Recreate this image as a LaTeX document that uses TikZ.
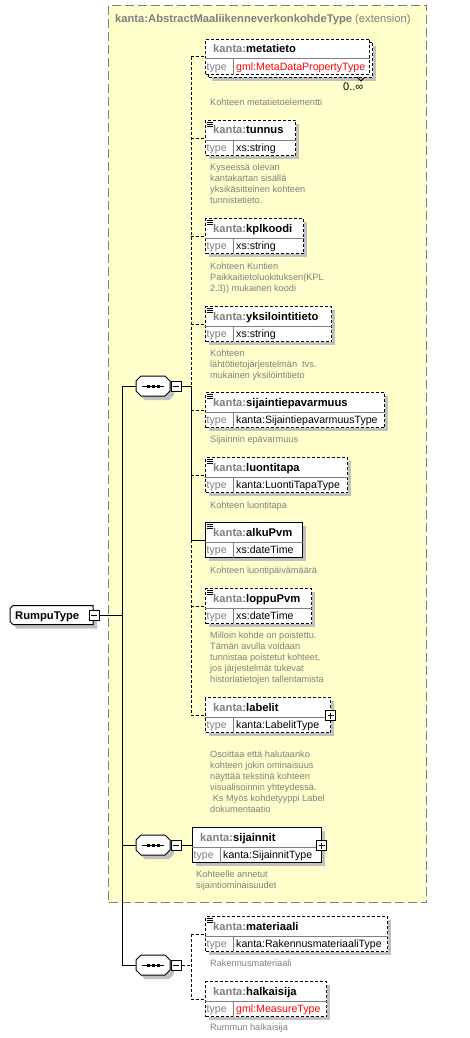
\documentclass[tikz,border=0pt]{standalone}
\usepackage{fontspec}
\setmainfont{Liberation Sans}
\usetikzlibrary{calc}
\definecolor{pfx}{HTML}{808080}
\definecolor{descc}{HTML}{808080}
\definecolor{shadowc}{HTML}{C0C0C0}
\definecolor{extfill}{HTML}{FFFFCC}
\definecolor{extline}{HTML}{808080}
\definecolor{divc}{HTML}{808080}
\definecolor{typered}{HTML}{FF0000}
\tikzset{
 elemnode/.style={draw=black, fill=white, line width=1pt, inner sep=0pt, rectangle},
 optb/.style={dash pattern=on 3pt off 2pt},
 reqb/.style={solid},
 divline/.style={draw=divc, line width=1pt},
 namefont/.style={font=\fontsize{11.2}{13}\selectfont\bfseries, inner sep=0pt},
 typefont/.style={font=\fontsize{10.6}{12}\selectfont, inner sep=0pt},
 desctext/.style={font=\fontsize{9.2}{11}\selectfont, text=descc, inner sep=0pt, anchor=base west},
 conn/.style={draw=black, line width=1pt},
 optconn/.style={conn, dash pattern=on 3pt off 2pt},
 pmbox/.style={draw=black, fill=white, line width=1pt, minimum size=10pt, inner sep=0pt, rectangle},
 hitbox/.style={draw=none, inner sep=0pt, rectangle},
 withshadow/.style={fill=shadowc},
 noshadow/.style={fill=none},
}
% #1 name #2 left #3 top #4 right #5 border #6 local name #7 type #8 type colour #9 shadow style
\newcommand\elembox[9]{%
 \fill[#9] ({#2+4},{#3+4}) rectangle ({#4+4},{#3+39});
 \node[elemnode,#5,minimum width={#4-#2},minimum height=35pt,anchor=north west] (#1) at (#2,#3) {};
 \draw[divline] ($(#1.north west)+(0,20)$) -- ($(#1.north east)+(0,20)$);
 \draw[divline] ($(#1.north west)+(28,20)$) -- ($(#1.south west)+(28,0)$);
 \node[namefont,anchor=base west] (#1-n) at ($(#1.north west)+(8,14)$) {\textcolor{pfx}{kanta:}#6};
 \node[typefont,text=pfx,anchor=base west] (#1-k) at ($(#1.north west)+(1.5,31.5)$) {type};
 \node[typefont,text=#8,anchor=base west] (#1-t) at ($(#1.north west)+(31,31.5)$) {#7};
}
\newcommand\simpleicon[1]{%
 \foreach \k in {0,1,2} {\draw[line width=0.55pt] ($(#1.north west)+(2,{1.8+2*\k})$) -- +(5.5,0);}
}
\newcommand\plusbox[1]{%
 \node[pmbox] (#1-p) at ($(#1.north east)+(-0.5,18.5)$) {};
 \draw[line width=1pt] ($(#1-p.center)+(-3,0)$) -- ($(#1-p.center)+(3,0)$)
   ($(#1-p.center)+(0,-3)$) -- ($(#1-p.center)+(0,3)$);
}
\newcommand\desc[4]{%
 \foreach \dline [count=\i] in {#4} {\node[desctext] (#1-d\i) at (#2,{#3+3.3+11*(\i-1)}) {\dline};}
}
\newcommand\seqshape[3]{%
 \begin{scope}[shift={(#2,#3)}]
  \fill[shadowc] (-8,-6) -- (16,-6) -- (21,-1) -- (21,9) -- (16,14) -- (-8,14) -- (-13,9) -- (-13,-1) -- cycle;
  \filldraw[fill=white,draw=black,line width=1pt] (-12,-10) -- (12,-10) -- (17,-5) -- (17,5) -- (12,10) -- (-12,10) -- (-17,5) -- (-17,-5) -- cycle;
  \draw[line width=1pt] (-11,0) -- (11,0);
  \fill (-6.5,-1.5) rectangle (-3.5,1.5);
  \fill (-1.5,-1.5) rectangle (1.5,1.5);
  \fill (3.5,-1.5) rectangle (6.5,1.5);
 \end{scope}
 \node[hitbox,minimum width=34pt,minimum height=20pt] (#1) at (#2,#3) {};
 \node[pmbox] (#1m) at ({#2+23},#3) {};
 \draw[line width=1pt] ($(#1m.center)+(-3,0)$) -- ($(#1m.center)+(3,0)$);
}
\begin{document}
\begin{tikzpicture}[x=1pt,y=-1pt]
\useasboundingbox (0,0) rectangle (469,1038);
% extension box
\node[draw=extline, fill=extfill, dash pattern=on 9pt off 4pt, line width=1pt, minimum width=318pt, minimum height=897pt, anchor=north west, inner sep=0pt] (ext) at (108,5) {};
\node[anchor=base west, inner sep=0pt, text=pfx, font=\fontsize{11.2}{13}\selectfont] (title) at (115,23) {\bfseries kanta:AbstractMaaliikenneverkonkohdeType \mdseries(extension)};

% metatieto (stacked, 0..inf)
\fill[shadowc] (212,46) rectangle (376,81);
\node[elemnode,optb,minimum width=164pt,minimum height=35pt,anchor=north west] (metaback) at (208,42) {};
\elembox{metatieto}{205}{39}{369}{optb}{metatieto}{gml:MetaDataPropertyType}{typered}{noshadow}
\draw[line width=0.8pt] (357,77) -- (361,81) -- (364,78);
\node[anchor=base west, inner sep=0pt, font=\fontsize{11}{12}\selectfont] (mult) at (343,91) {0..∞};
\desc{metatieto}{210}{102}{Kohteen metatietoelementti}

\elembox{tunnus}{205}{120}{295}{optb}{tunnus}{xs:string}{black}{withshadow}
\simpleicon{tunnus}
\desc{tunnus}{210}{167}{Kyseessä olevan,kantakartan sisällä,yksikäsitteinen kohteen,tunnistetieto.}

\elembox{kplkoodi}{205}{218}{303}{optb}{kplkoodi}{xs:string}{black}{withshadow}
\simpleicon{kplkoodi}
\desc{kplkoodi}{210}{266}{Kohteen Kuntien,Paikkaitietoluokituksen(KPL,2.3)) mukainen koodi}

\elembox{yksilointitieto}{205}{306}{331}{optb}{yksilointitieto}{xs:string}{black}{withshadow}
\simpleicon{yksilointitieto}
\desc{yksilointitieto}{210}{353}{Kohteen,lähtötietojärjestelmän\ \ tvs.,mukainen yksilöintitieto}

\elembox{sijaintiepavarmuus}{205}{392}{384}{optb}{sijaintiepavarmuus}{kanta:SijaintiepavarmuusType}{black}{withshadow}
\simpleicon{sijaintiepavarmuus}
\desc{sijaintiepavarmuus}{210}{439}{Sijainnin epävarmuus}

\elembox{luontitapa}{205}{457}{347}{optb}{luontitapa}{kanta:LuontiTapaType}{black}{withshadow}
\simpleicon{luontitapa}
\desc{luontitapa}{210}{505}{Kohteen luontitapa}

\elembox{alkuPvm}{205}{522}{302}{reqb}{alkuPvm}{xs:dateTime}{black}{withshadow}
\simpleicon{alkuPvm}
\desc{alkuPvm}{210}{570}{Kohteen luontipäivämäärä}

\elembox{loppuPvm}{205}{588}{311}{optb}{loppuPvm}{xs:dateTime}{black}{withshadow}
\simpleicon{loppuPvm}
\desc{loppuPvm}{210}{635}{Milloin kohde on poistettu.,Tämän avulla voidaan,{tunnistaa poistetut kohteet,},jos järjestelmät tukevat,historiatietojen tallentamista}

\elembox{labelit}{205}{697}{330}{optb}{labelit}{kanta:LabelitType}{black}{withshadow}
\plusbox{labelit}
\desc{labelit}{210}{754}{Osoittaa että halutaanko,kohteen jokin ominaisuus,näyttää tekstinä kohteen,visualisoinnin yhteydessä.,\ Ks Myös kohdetyyppi Label,dokumentaatio}

\elembox{sijainnit}{192}{827}{321}{reqb}{sijainnit}{kanta:SijainnitType}{black}{withshadow}
\plusbox{sijainnit}
\desc{sijainnit}{196}{874}{Kohteelle annetut,sijaintiominaisuudet}

\elembox{materiaali}{205}{916}{387}{optb}{materiaali}{kanta:RakennusmateriaaliType}{black}{withshadow}
\simpleicon{materiaali}
\desc{materiaali}{210}{963}{Rakennusmateriaali}

\elembox{halkaisija}{205}{981}{326}{optb}{halkaisija}{gml:MeasureType}{typered}{withshadow}
\desc{halkaisija}{210}{1027}{Rummun halkaisija}

% sequences
\seqshape{s1}{153}{386}
\seqshape{s2}{153}{845}
\seqshape{s3}{153}{965}

% RumpuType
\fill[shadowc] (17,609.5) -- (97,609.5) -- (97,628.5) -- (17,628.5) -- (14,625.5) -- (14,612.5) -- cycle;
\filldraw[fill=white,draw=black,line width=1pt] (13,605.5) -- (93,605.5) -- (93,624.5) -- (13,624.5) -- (10,621.5) -- (10,608.5) -- cycle;
\node[hitbox,minimum width=83pt,minimum height=19pt] (rump) at (51.5,615) {};
\node[namefont,anchor=base west] (rump-n) at (15,619) {RumpuType};
\node[pmbox] (rumpm) at (94,615) {};
\draw[line width=1pt] ($(rumpm.center)+(-3,0)$) -- ($(rumpm.center)+(3,0)$);

% junctions
\foreach \e in {metatieto,tunnus,kplkoodi,yksilointitieto,sijaintiepavarmuus,luontitapa,alkuPvm,loppuPvm,labelit,materiaali,halkaisija}
 {\coordinate (j-\e) at (191,0 |- \e.west);}
\coordinate (s1j) at (191,0 |- s1m.east);
\coordinate (s3j) at (191,0 |- s3m.east);
\coordinate (b1) at (122,0 |- s1.west);
\coordinate (b2) at (122,0 |- s2.west);
\coordinate (b3) at (122,0 |- s3.west);
\coordinate (br) at (122,0 |- rumpm.east);

% first sequence bus
\draw[optconn] (j-metatieto) -- (s1j);
\draw[conn] (s1j) -- (j-alkuPvm);
\draw[optconn] (j-alkuPvm) -- (j-labelit);
\foreach \e in {metatieto,tunnus,kplkoodi,yksilointitieto,sijaintiepavarmuus,luontitapa,loppuPvm,labelit}
 {\draw[optconn] (j-\e) -- (\e.west);}
\draw[conn] (j-alkuPvm) -- (alkuPvm.west);
\draw[conn] (s1m.east) -- (s1j);

% main bus
\draw[conn] (b1) -- (b3);
\draw[conn] (b1) -- (s1.west);
\draw[conn] (b2) -- (s2.west);
\draw[conn] (b3) -- (s3.west);
\draw[conn] (rumpm.east) -- (br);

% second sequence
\draw[conn] (s2m.east) -- (s2m.east -| sijainnit.west);

% third sequence
\draw[optconn] (s3m.east) -- (s3j);
\draw[optconn] (j-materiaali) -- (j-halkaisija);
\draw[optconn] (j-materiaali) -- (materiaali.west);
\draw[optconn] (j-halkaisija) -- (halkaisija.west);
\end{tikzpicture}
\end{document}
